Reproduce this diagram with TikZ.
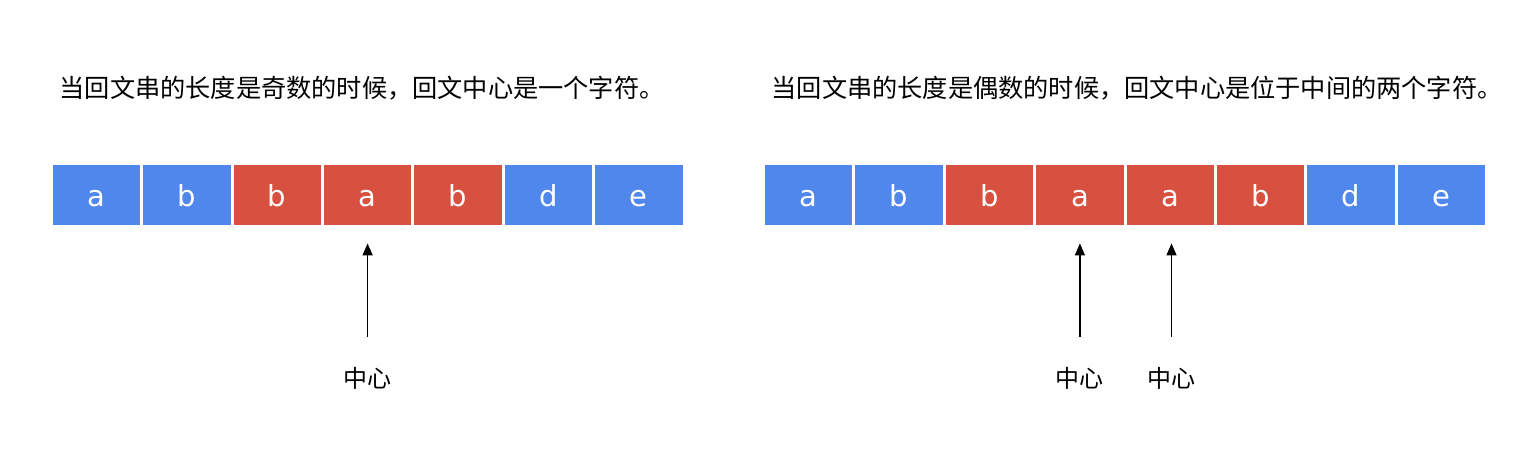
\documentclass[tikz,border=0pt]{standalone}
\usepackage{fontspec}
\usetikzlibrary{arrows.meta}
\newfontfamily\cjk{Noto Sans CJK SC}
\newfontfamily\cellfont{DejaVu Sans}
\definecolor{cblue}{HTML}{5087EC}
\definecolor{cred}{HTML}{D85140}
\tikzset{
  cellbox/.style={minimum width=87.4pt, minimum height=59.4pt, inner sep=0pt, text height=23.4pt, text depth=0pt, text=white, font=\cellfont\fontsize{29}{30}\selectfont},
  bluecell/.style={cellbox, fill=cblue},
  redcell/.style={cellbox, fill=cred},
  caption/.style={inner sep=0pt, anchor=west, font=\cjk\fontsize{25.2}{30}\selectfont},
  lab/.style={inner sep=0pt, font=\cjk\fontsize{24}{28}\selectfont},
  ptr/.style={line width=1.3pt, -{Triangle[width=10pt,length=12pt]}, shorten >=18.5pt}
}
\begin{document}
\begin{tikzpicture}[x=1pt,y=-1pt]
\useasboundingbox (0,0) rectangle (1540,454);
% captions
\node[caption] (capL) at (59.5,88) {当回文串的长度是奇数的时候，回文中心是一个字符。};
\node[caption] (capR) at (771.5,88) {当回文串的长度是偶数的时候，回文中心是位于中间的两个字符。};
% left string
\node[bluecell] (L0) at (96.4,195) {a};
\node[bluecell] (L1) at (186.8,195) {b};
\node[redcell]  (L2) at (277.2,195) {b};
\node[redcell]  (L3) at (367.6,195) {a};
\node[redcell]  (L4) at (458.0,195) {b};
\node[bluecell] (L5) at (548.4,195) {d};
\node[bluecell] (L6) at (638.8,195) {e};
% right string
\node[bluecell] (R0) at (808.7,195) {a};
\node[bluecell] (R1) at (899.1,195) {b};
\node[redcell]  (R2) at (989.5,195) {b};
\node[redcell]  (R3) at (1079.9,195) {a};
\node[redcell]  (R4) at (1170.3,195) {a};
\node[redcell]  (R5) at (1260.7,195) {b};
\node[bluecell] (R6) at (1351.1,195) {d};
\node[bluecell] (R7) at (1441.5,195) {e};
% labels
\node[lab] (cL) at (367.6,378) {中心};
\node[lab] (cR1) at (1079.9,378) {中心};
\node[lab] (cR2) at (1171.5,378) {中心};
% arrows
\coordinate (sL) at (367.6,336.6);
\coordinate (sR1) at (1079.9,336.6);
\coordinate (sR2) at (1171.5,336.6);
\draw[ptr] (sL) -- (L3.south);
\draw[ptr] (sR1) -- (R3.south);
\draw[ptr] (sR2) -- (sR2 |- R4.south);
\end{tikzpicture}
\end{document}
